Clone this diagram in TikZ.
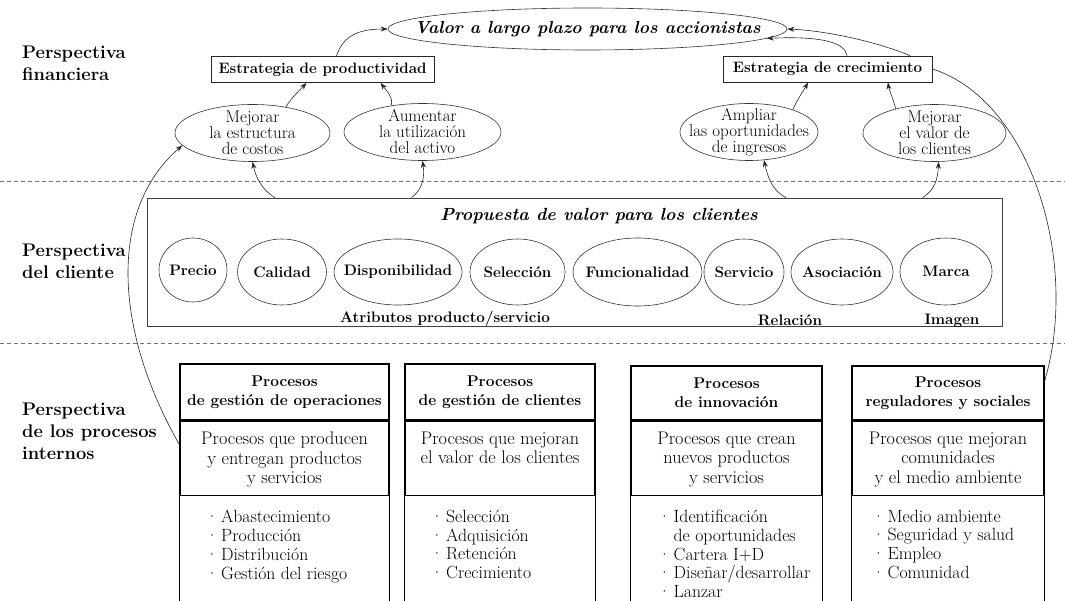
\documentclass[tikz,border=0pt]{standalone}
\usetikzlibrary{shapes.geometric,arrows.meta}
\begin{document}
\begin{tikzpicture}[x=1pt,y=-1pt,
  thinline/.style={line width=0.6pt, draw=black!85},
  arr/.style={thinline, -{Stealth[length=7pt,width=5pt]}},
  ell/.style={ellipse, draw=black!80, line width=0.6pt, inner sep=0pt},
  ftxt/.style={align=center, inner sep=0pt, font=\fontsize{17}{16}\selectfont},
  ctxt/.style={inner sep=0pt, font=\fontsize{15.2}{18}\selectfont\bfseries},
  sbox/.style={draw=black!85, line width=0.8pt, inner sep=0pt, minimum height=26pt, font=\fontsize{15.1}{18}\selectfont\bfseries},
  persp/.style={anchor=west, align=left, inner sep=0pt, font=\fontsize{18.3}{22}\selectfont\bfseries},
  hdr/.style={draw=black, line width=1.4pt, inner sep=0pt, align=center, font=\fontsize{15.5}{19}\selectfont\bfseries},
  dbox/.style={draw=black, line width=1.4pt, inner sep=0pt, anchor=north},
  dtxt/.style={anchor=north, align=center, inner sep=0pt, font=\fontsize{18.2}{19.5}\selectfont},
  itxt/.style={anchor=north west, align=left, inner sep=0pt, font=\fontsize{17.7}{18.9}\selectfont},
  pbox/.style={draw=black, line width=1.4pt},
  dashsep/.style={draw=black!55, line width=0.6pt, dash pattern=on 4pt off 3pt},
  ]
\useasboundingbox (0,0) rectangle (1065,601);
\coordinate (bot) at (0,601);

% separators
\draw[dashsep] (0,181) -- (1065,181);
\draw[dashsep] (0,343) -- (1065,343);

% perspective labels
\node[persp] (pf) at (22,63.5) {Perspectiva\\financiera};
\node[persp] (pc) at (22,261) {Perspectiva\\del cliente};
\node[persp] (pp) at (22,431) {Perspectiva\\de los procesos\\internos};

% financial perspective
\node[ell, minimum width=399pt, minimum height=42pt,
  label={[inner sep=0pt, font=\fontsize{17.4}{20}\selectfont\bfseries\itshape]center:Valor a largo plazo para los accionistas}] (valor) at (587.5,29) {};
\node[sbox, minimum width=223pt] (prod) at (322.5,69.5) {Estrategia de productividad};
\node[sbox, minimum width=209pt] (crec) at (827.5,69) {Estrategia de crecimiento};

\node[ell, minimum width=155pt, minimum height=57pt,
  label={[ftxt]center:{Mejorar\\la estructura\\de costos}}] (e1) at (252.5,133) {};
\node[ell, minimum width=157pt, minimum height=57pt,
  label={[ftxt]center:{Aumentar\\la utilización\\del activo}}] (e2) at (422.5,132) {};
\node[ell, minimum width=138pt, minimum height=57pt,
  label={[ftxt]center:{Ampliar\\las oportunidades\\de ingresos}}] (e3) at (749,132) {};
\node[ell, minimum width=143pt, minimum height=57pt,
  label={[ftxt]center:{Mejorar\\el valor de\\los clientes}}] (e4) at (934.5,133) {};

% customer perspective
\node[draw=black!75, line width=0.7pt, minimum width=855pt, minimum height=128pt, inner sep=0pt] (cust) at (574.5,262) {};
\node[inner sep=0pt, font=\fontsize{17.6}{20}\selectfont\bfseries\itshape] (ptitle) at (599,216) {Propuesta de valor para los clientes};

\node[ell, minimum width=68pt, minimum height=64pt, label={[ctxt]center:Precio}] (c1) at (193,270) {};
\node[ell, minimum width=89pt, minimum height=66pt, label={[ctxt]center:Calidad}] (c2) at (282,272) {};
\node[ell, minimum width=128pt, minimum height=66pt, label={[ctxt]center:Disponibilidad}] (c3) at (398,272) {};
\node[ell, minimum width=95pt, minimum height=66pt, label={[ctxt]center:Selección}] (c4) at (517.5,272) {};
\node[ell, minimum width=129pt, minimum height=68pt, label={[ctxt]center:Funcionalidad}] (c5) at (637.5,272) {};
\node[ell, minimum width=80pt, minimum height=66pt, label={[ctxt]center:Servicio}] (c6) at (744,272) {};
\node[ell, minimum width=102pt, minimum height=66pt, label={[ctxt]center:Asociación}] (c7) at (842,272) {};
\node[ell, minimum width=92pt, minimum height=67pt, label={[ctxt]center:Marca}] (c8) at (946,271.5) {};

\node[ctxt] (lattr) at (445,319) {Atributos producto/servicio};
\node[ctxt] (lrel) at (790,320) {Relación};
\node[ctxt] (limg) at (952,321) {Imagen};

% internal processes
\node[hdr, minimum width=209pt, minimum height=56pt] (b1h) at (284.5,392) {Procesos\\de gestión de operaciones};
\node[dbox, minimum width=209pt, minimum height=74pt] (b1d) at (b1h.south) {};
\node[dtxt] (b1t) at ([yshift=-11pt]b1d.north) {Procesos que producen\\y entregan productos\\y servicios};
\node[itxt] (b1i) at ([xshift=26pt,yshift=-13.5pt]b1d.south west) {·\,Abastecimiento\\·\,Producción\\·\,Distribución\\·\,Gestión del riesgo};
\draw[pbox] (b1d.south west) -- (b1d.south west |- bot);
\draw[pbox] (b1d.south east) -- (b1d.south east |- bot);

\node[hdr, minimum width=190pt, minimum height=56pt] (b2h) at (500,392) {Procesos\\de gestión de clientes};
\node[dbox, minimum width=190pt, minimum height=74pt] (b2d) at (b2h.south) {};
\node[dtxt] (b2t) at ([yshift=-11pt]b2d.north) {Procesos que mejoran\\el valor de los clientes};
\node[itxt] (b2i) at ([xshift=26pt,yshift=-13.5pt]b2d.south west) {·\,Selección\\·\,Adquisición\\·\,Retención\\·\,Crecimiento};
\draw[pbox] (b2d.south west) -- (b2d.south west |- bot);
\draw[pbox] (b2d.south east) -- (b2d.south east |- bot);

\node[hdr, minimum width=191pt, minimum height=54pt] (b3h) at (726.5,393) {Procesos\\de innovación};
\node[dbox, minimum width=191pt, minimum height=74pt] (b3d) at (b3h.south) {};
\node[dtxt] (b3t) at ([yshift=-11pt]b3d.north) {Procesos que crean\\nuevos productos\\y servicios};
\node[itxt] (b3i) at ([xshift=27.5pt,yshift=-13.5pt]b3d.south west) {·\,Identificación\\\hphantom{·\,}de oportunidades\\·\,Cartera I+D\\·\,Diseñar/desarrollar\\·\,Lanzar};
\draw[pbox] (b3d.south west) -- (b3d.south west |- bot);
\draw[pbox] (b3d.south east) -- (b3d.south east |- bot);

\node[hdr, minimum width=192pt, minimum height=54pt] (b4h) at (948,393) {Procesos\\reguladores y sociales};
\node[dbox, minimum width=192pt, minimum height=74pt] (b4d) at (b4h.south) {};
\node[dtxt] (b4t) at ([yshift=-11pt]b4d.north) {Procesos que mejoran\\comunidades\\y el medio ambiente};
\node[itxt] (b4i) at ([xshift=20.5pt,yshift=-13.5pt]b4d.south west) {·\,Medio ambiente\\·\,Seguridad y salud\\·\,Empleo\\·\,Comunidad};
\draw[pbox] (b4d.south west) -- (b4d.south west |- bot);
\draw[pbox] (b4d.south east) -- (b4d.south east |- bot);

% connectors: financial
\draw[arr] ([xshift=14pt]prod.north) .. controls (343,35) and (360,29) .. (valor.west);
\draw[arr] ([xshift=19.5pt]crec.north) .. controls (845,42) and (820,36) .. (valor.-3);
\draw[arr] ([xshift=82.5pt]crec.north) .. controls (880,43) and (830,31) .. (valor.east);
\draw[arr] (e1.38) .. controls (291,98) and (300,90) .. ([xshift=-16pt]prod.south);
\draw[arr] (e2.140) .. controls (394,98) and (386,90) .. ([xshift=58pt]prod.south);
\draw[arr] (e3.27) .. controls (798,98) and (804,90) .. ([xshift=-19.5pt]crec.south);
\draw[arr] (e4.148) .. controls (893,98) and (889,90) .. ([xshift=60.5pt]crec.south);

% connectors: customer to financial
\draw[arr] ([xshift=-299.5pt]cust.north) .. controls (262,190) and (256,178) .. (e1.south);
\draw[arr] ([xshift=-163pt]cust.north) .. controls (422,190) and (425,178) .. (e2.south);
\draw[arr] ([xshift=211.5pt]cust.north) .. controls (772,190) and (768,178) .. (e3.-62);
\draw[arr] ([xshift=348pt]cust.north) .. controls (935,190) and (938,178) .. (e4.-82);

% long connectors
\draw[arr] ([yshift=14pt]b1d.west) .. controls (114,330) and (108,210) .. (e1.190);
\draw[thinline] (crec.east) .. controls (1030,100) and (1080,260) .. ([yshift=12pt]b4h.east);
\end{tikzpicture}
\end{document}
